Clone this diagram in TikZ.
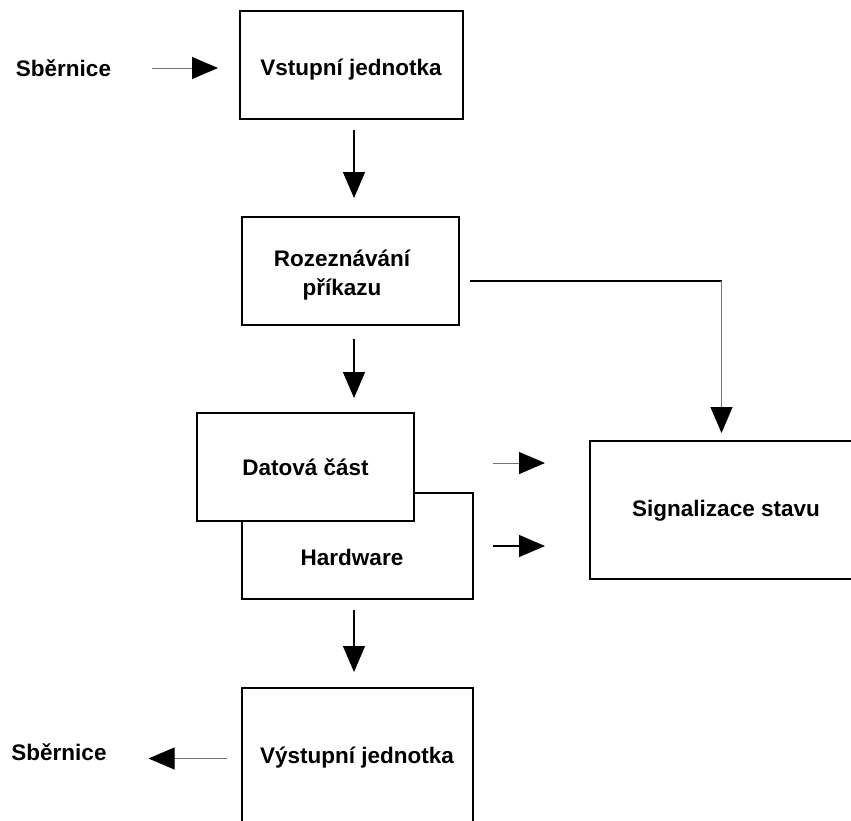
\documentclass[tikz,border=0pt]{standalone}
\usepackage{fontspec}
\setmainfont{Liberation Sans}
\usetikzlibrary{arrows.meta}

\begin{document}
\begin{tikzpicture}[x=1pt,y=-1pt,outer sep=0,
    box/.style={draw,line width=1.2pt,fill=white,inner sep=0},
    txt/.style={inner sep=0,font=\fontsize{22.5}{29}\selectfont\bfseries,align=center},
    arr/.style={line width=1.2pt,-{Triangle[length=26pt,width=22pt]}},
    thinarr/.style={line width=1pt,draw=black!55,-{Triangle[length=26pt,width=22pt,color=black]}}]
    \useasboundingbox (0,0) rectangle (851,820);
    % Input Unit
    \node[txt] (BusIn) at (63.5,68) {Sběrnice};
    \node[box,minimum width=223pt,minimum height=108pt] (InputUnit) at (351.5,65) {};
    \node[txt] (InputText) at (351,70) {Vstupní jednotka};
    \draw[thinarr,shorten <=41pt,shorten >=22pt] (BusIn.east) -- (BusIn.east -| InputUnit.west);
    % Command Decoder
    \node[box,minimum width=217pt,minimum height=108pt] (CommandDecoder) at (350.5,271) {};
    \node[txt] (DecoderText) at (342,275) {Rozeznávání\\příkazu};
    \draw[arr,shorten <=11pt,shorten >=19pt] ([xshift=2.5pt]InputUnit.south) -- ([xshift=2.5pt]InputUnit.south |- CommandDecoder.north);
    % Data Part and Hardware
    \node[box,minimum width=231pt,minimum height=106pt] (Hardware) at (357.5,546) {};
    \node[txt] (HardwareText) at (352,557) {Hardware};
    \node[box,txt,minimum width=217pt,minimum height=108pt] (DataPart) at (305.5,467) {Datová část};
    \draw[arr,shorten <=14pt,shorten >=15pt] ([xshift=3.5pt]CommandDecoder.south) -- ([xshift=3.5pt]CommandDecoder.south |- DataPart.north);
    % Status Signal
    \node[box,minimum width=263pt,minimum height=138pt] (StatusSignal) at (721.5,510) {};
    \node[txt] (StatusText) at (726,511) {Signalizace stavu};
    \coordinate (Corner) at ([yshift=-10pt]CommandDecoder.east -| StatusSignal.north);
    \draw[line width=1.2pt,shorten <=11pt] ([yshift=-10pt]CommandDecoder.east) -- (Corner);
    \draw[thinarr,shorten >=8pt] (Corner) -- (StatusSignal.north);
    \draw[thinarr,shorten <=79pt,shorten >=45pt] ([yshift=4pt]DataPart.east) -- ([yshift=4pt]DataPart.east -| StatusSignal.west);
    \draw[arr,shorten <=20pt,shorten >=45pt] (Hardware.east) -- (Hardware.east -| StatusSignal.west);
    % Output Unit
    \node[box,minimum width=231pt,minimum height=135pt] (OutputUnit) at (357.5,755.5) {};
    \node[txt] (OutputText) at (357,758) {Výstupní jednotka};
    \node[txt] (BusOut) at (59,752) {Sběrnice};
    \draw[arr,shorten <=11pt,shorten >=16pt] ([xshift=-3.5pt]Hardware.south) -- ([xshift=-3.5pt]Hardware.south |- OutputUnit.north);
    \draw[thinarr,shorten <=15pt,shorten >=42pt] ([yshift=-3pt]OutputUnit.west) -- ([yshift=-3pt]OutputUnit.west -| BusOut.east);
\end{tikzpicture}
\end{document}
